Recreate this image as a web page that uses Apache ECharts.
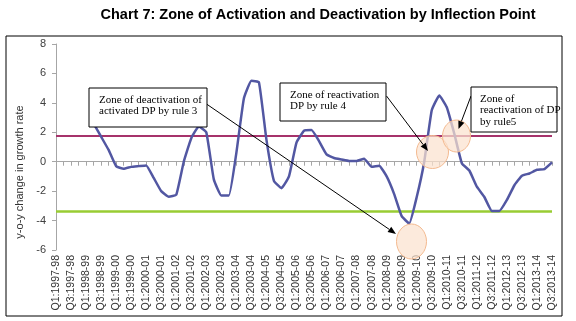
<!DOCTYPE html>
<html><head><meta charset="utf-8">
<script src="https://cdn.jsdelivr.net/npm/echarts@6/dist/echarts.min.js"></script>
<style>html,body{margin:0;padding:0;background:#fff}#c{width:576px;height:321px}</style>
</head><body><div id="c"></div>
<script>
const categories = [
 'Q1:1997-98','Q2:1997-98','Q3:1997-98','Q4:1997-98',
 'Q1:1998-99','Q2:1998-99','Q3:1998-99','Q4:1998-99',
 'Q1:1999-00','Q2:1999-00','Q3:1999-00','Q4:1999-00',
 'Q1:2000-01','Q2:2000-01','Q3:2000-01','Q4:2000-01',
 'Q1:2001-02','Q2:2001-02','Q3:2001-02','Q4:2001-02',
 'Q1:2002-03','Q2:2002-03','Q3:2002-03','Q4:2002-03',
 'Q1:2003-04','Q2:2003-04','Q3:2003-04','Q4:2003-04',
 'Q1:2004-05','Q2:2004-05','Q3:2004-05','Q4:2004-05',
 'Q1:2005-06','Q2:2005-06','Q3:2005-06','Q4:2005-06',
 'Q1:2006-07','Q2:2006-07','Q3:2006-07','Q4:2006-07',
 'Q1:2007-08','Q2:2007-08','Q3:2007-08','Q4:2007-08',
 'Q1:2008-09','Q2:2008-09','Q3:2008-09','Q4:2008-09',
 'Q1:2009-10','Q2:2009-10','Q3:2009-10','Q4:2009-10',
 'Q1:2010-11','Q2:2010-11','Q3:2010-11','Q4:2010-11',
 'Q1:2011-12','Q2:2011-12','Q3:2011-12','Q4:2011-12',
 'Q1:2012-13','Q2:2012-13','Q3:2012-13','Q4:2012-13',
 'Q1:2013-14','Q2:2013-14','Q3:2013-14'
];
const growthChange = [
 null, null, null, null,
 null, 2.6, 1.7, 0.8,
 -0.3, -0.48, -0.35, -0.3,
 -0.25, -1.1, -2.0, -2.38,
 -2.25, 0.0, 1.6, 2.4,
 2.0, -1.2, -2.3, -2.3,
 0.6, 4.3, 5.5, 5.4,
 1.5, -1.3, -1.8, -1.0,
 1.3, 2.1, 2.15, 1.4,
 0.5, 0.25, 0.15, 0.05,
 0.05, 0.2, -0.35, -0.27,
 -1.0, -2.2, -3.7, -4.2,
 -2.4, 0.0, 3.5, 4.5,
 3.7, 1.9, -0.1, -0.6,
 -1.7, -2.4, -3.35, -3.35,
 -2.6, -1.6, -0.95, -0.8,
 -0.55, -0.5, -0.05
];
const yMin = -6, yMax = 8, yStep = 2;
const upperThreshold = 1.75;
const lowerThreshold = -3.4;

function arrow(x1, y1, x2, y2) {
  const a = Math.atan2(y2 - y1, x2 - x1);
  const L = 8, W = 3.2;
  const bx = x2 - L * Math.cos(a), by = y2 - L * Math.sin(a);
  return [
    {type:'line', z:110, shape:{x1:x1, y1:y1, x2:bx, y2:by}, style:{stroke:'#000', lineWidth:1}},
    {type:'polygon', z:110, shape:{points:[[x2,y2],[bx + W*Math.sin(a), by - W*Math.cos(a)],[bx - W*Math.sin(a), by + W*Math.cos(a)]]}, style:{fill:'#000'}}
  ];
}
function ell(cx, cy, rx, ry) {
  return {type:'ellipse', z:105, shape:{cx:cx, cy:cy, rx:rx, ry:ry},
    style:{fill:'rgba(251,226,207,0.72)', stroke:'#f3b98f', lineWidth:1}};
}
function box(x, y, w, h, lines, tx, ty) {
  return [
    {type:'rect', z:120, shape:{x:x, y:y, width:w, height:h}, style:{fill:'#fff', stroke:'#000', lineWidth:1}},
    {type:'text', z:121, x:tx, y:ty, style:{text:lines.join('\n'), font:'11px "Liberation Serif", serif', fill:'#000', lineHeight:11.5, textVerticalAlign:'top'}}
  ];
}

const chart = echarts.init(document.getElementById('c'), null, {renderer:'canvas'});
const graphics = [].concat(
  [{type:'rect', z:1, shape:{x:6, y:36, width:556, height:280}, style:{fill:'none', stroke:'#000', lineWidth:1}}],
  [{type:'text', z:130, x:318, y:7, style:{text:'Chart 7: Zone of Activation and Deactivation by Inflection Point', font:'bold 14.5px "Liberation Sans", Arial, sans-serif', fill:'#000', textAlign:'center', textVerticalAlign:'top'}}],
  [{type:'text', z:130, x:20, y:172, rotation:Math.PI/2, style:{text:'y-o-y change in growth rate', font:'11px "Liberation Sans", Arial, sans-serif', fill:'#333', textAlign:'center', textVerticalAlign:'middle'}}],
  [ell(411.5, 241.5, 15, 17.5), ell(432.5, 152, 16, 16.5), ell(456.5, 136, 14, 16)],
  arrow(206.5, 104, 396, 234),
  arrow(386.5, 96, 428, 151),
  arrow(471, 96, 458.5, 129),
  box(89, 88, 118, 39, ['Zone of deactivation of','activated DP by rule 3'], 99, 94),
  box(280, 83, 106, 38, ['Zone of reactivation','DP by rule 4'], 290, 89),
  box(471, 87, 86, 45, ['Zone of','reactivation of DP','by rule5'], 480, 93)
);

chart.setOption({
  animation:false,
  grid:{left:56, right:24, top:44, bottom:71},
  xAxis:[
    {type:'category', data:categories, boundaryGap:false, position:'bottom',
     axisLine:{show:false, onZero:false}, axisTick:{show:false},
     axisLabel:{interval:1, rotate:90, fontSize:10.5, color:'#333', margin:5, fontFamily:'"Liberation Sans", Arial, sans-serif'},
     splitLine:{show:false}},
    {type:'category', data:categories, boundaryGap:false, position:'bottom',
     axisLine:{show:true, onZero:true, lineStyle:{color:'#a6a6a6', width:1}},
     axisTick:{show:true, interval:0, length:4, lineStyle:{color:'#a6a6a6'}},
     axisLabel:{show:false}, splitLine:{show:false}}
  ],
  yAxis:{type:'value', min:yMin, max:yMax, interval:yStep,
    axisLine:{show:true, lineStyle:{color:'#a6a6a6'}},
    axisTick:{show:true, length:4, lineStyle:{color:'#a6a6a6'}},
    axisLabel:{fontSize:11, color:'#404040', margin:10, fontFamily:'"Liberation Sans", Arial, sans-serif'},
    splitLine:{show:false}},
  series:[{
    type:'line', data:growthChange, xAxisIndex:0, symbol:'none', smooth:0.12,
    lineStyle:{color:'#5257a2', width:2.5}, z:5,
    markLine:{silent:true, symbol:'none', label:{show:false},
      data:[
        {yAxis:upperThreshold, lineStyle:{color:'#a6336b', width:2, type:'solid'}},
        {yAxis:lowerThreshold, lineStyle:{color:'#99cc33', width:2.5, type:'solid'}}
      ]}
  }],
  graphic:graphics
});
</script></body></html>
